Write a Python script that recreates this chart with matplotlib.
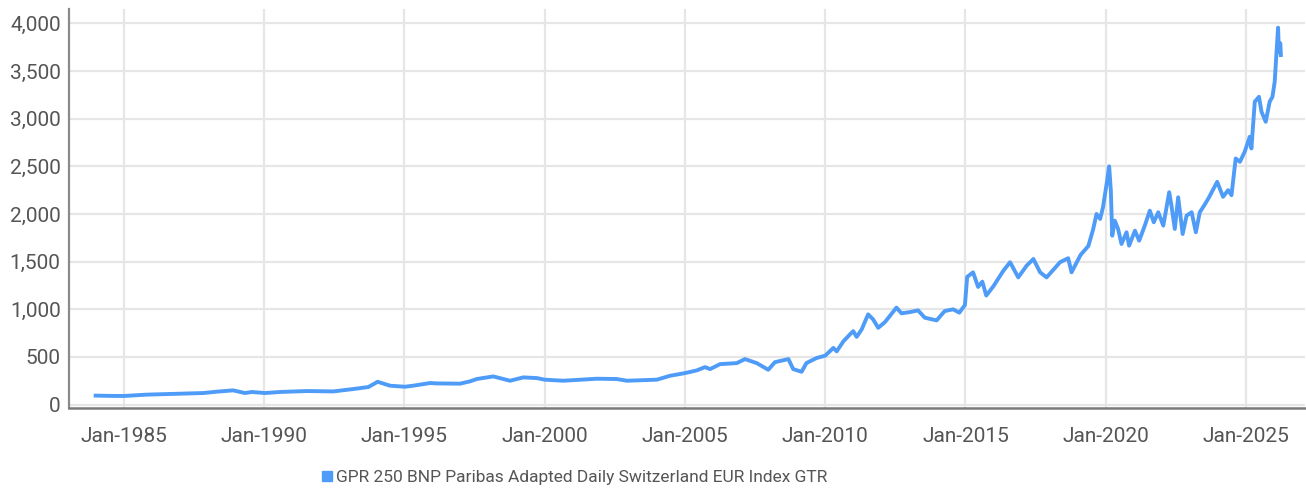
import matplotlib
matplotlib.use("Agg")
import matplotlib.pyplot as plt
from matplotlib.lines import Line2D

# index level, x in decimal years
years = [1984.0, 1984.5, 1985.0, 1985.8, 1987.0, 1987.84, 1988.31, 1988.9, 1989.32, 1989.56,
         1990.04, 1990.57, 1991.52, 1992.47, 1993.18, 1993.72, 1994.05, 1994.49, 1995.02, 1995.32,
         1995.92, 1996.15, 1996.98, 1997.34, 1997.58, 1998.17, 1998.77, 1999.24, 1999.72, 2000.0,
         2000.67, 2001.86, 2002.57, 2002.93, 2004.0, 2004.47, 2005.0, 2005.42, 2005.72, 2005.9,
         2006.25, 2006.85, 2007.14, 2007.56, 2007.97, 2008.21, 2008.69, 2008.86, 2009.16, 2009.33,
         2009.69, 2010.0, 2010.29, 2010.41, 2010.65, 2010.88, 2011.0, 2011.12, 2011.3, 2011.53,
         2011.71, 2011.89, 2012.13, 2012.54, 2012.72, 2013.02, 2013.31, 2013.55, 2013.97, 2014.26,
         2014.56, 2014.78, 2014.98, 2015.06, 2015.27, 2015.45, 2015.6, 2015.74, 2015.99, 2016.35,
         2016.59, 2016.88, 2017.18, 2017.42, 2017.66, 2017.89, 2018.37, 2018.66, 2018.78, 2019.1,
         2019.38, 2019.55, 2019.67, 2019.8, 2019.9, 2020.03, 2020.12, 2020.18, 2020.23, 2020.32,
         2020.44, 2020.56, 2020.74, 2020.83, 2021.04, 2021.19, 2021.39, 2021.57, 2021.71, 2021.87,
         2022.05, 2022.26, 2022.34, 2022.46, 2022.58, 2022.74, 2022.88, 2023.06, 2023.21, 2023.35,
         2023.53, 2023.68, 2023.97, 2024.18, 2024.36, 2024.48, 2024.63, 2024.78, 2024.95, 2025.13,
         2025.19, 2025.31, 2025.46, 2025.55, 2025.7, 2025.84, 2025.94, 2026.02, 2026.14, 2026.17,
         2026.22, 2026.24]
values = [95, 92, 91, 105, 115, 122, 136, 150, 122, 133,
          122, 133, 143, 139, 164, 185, 240, 199, 188, 199,
          227, 223, 220, 244, 269, 296, 251, 286, 279, 262,
          251, 272, 269, 251, 262, 303, 331, 359, 394, 373,
          425, 436, 478, 436, 366, 446, 478, 373, 345, 436,
          489, 514, 595, 559, 665, 736, 771, 711, 789, 947,
          894, 806, 866, 1018, 958, 971, 989, 912, 884, 982,
          1000, 965, 1045, 1340, 1388, 1235, 1290, 1145, 1240, 1405,
          1494, 1335, 1458, 1528, 1388, 1335, 1494, 1536, 1388, 1570,
          1665, 1840, 2000, 1948, 2070, 2315, 2500, 2245, 1772, 1930,
          1842, 1685, 1808, 1668, 1825, 1720, 1878, 2035, 1913, 2018,
          1878, 2228, 2088, 1843, 2175, 1790, 1983, 2018, 1808, 2018,
          2100, 2175, 2337, 2180, 2250, 2197, 2582, 2547, 2652, 2810,
          2687, 3177, 3229, 3072, 2967, 3177, 3229, 3387, 3954, 3702,
          3790, 3667]

tick_years = [1985, 1990, 1995, 2000, 2005, 2010, 2015, 2020, 2025]
tick_labels = ["Jan-%d" % y for y in tick_years]
y_ticks = [0, 500, 1000, 1500, 2000, 2500, 3000, 3500, 4000]
series_name = "GPR 250 BNP Paribas Adapted Daily Switzerland EUR Index GTR"

plt.rcParams['font.family'] = ['Roboto', 'DejaVu Sans']
line_color = "#4f9cf8"

fig = plt.figure(figsize=(13.06, 4.93), dpi=100)
ax = fig.add_axes([69/1306, 85/493, 1236/1306, 399/493])

ax.plot(years, values, color=line_color, lw=2.8, solid_joinstyle="round")

ax.set_xlim(1983.05, 2027.1)
ax.set_ylim(-35, 4150)
ax.set_xticks(tick_years)
ax.set_xticklabels(tick_labels)
ax.set_yticks(y_ticks)
ax.set_yticklabels(["{:,}".format(v) for v in y_ticks])

ax.grid(True, color="#e6e6e6", lw=1.6)
ax.set_axisbelow(True)
for s in ["top", "right"]:
    ax.spines[s].set_visible(False)
ax.spines["left"].set_color("#8a8a8a")
ax.spines["left"].set_linewidth(1.6)
ax.spines["bottom"].set_color("#7a7a7a")
ax.spines["bottom"].set_linewidth(1.8)
ax.tick_params(axis="both", length=0, labelsize=15, colors="#555555")
ax.tick_params(axis="x", pad=14)
ax.tick_params(axis="y", pad=6)

handle = Line2D([], [], marker="s", ls="none", color=line_color, markersize=7)
fig.legend([handle], [series_name], loc="center", bbox_to_anchor=(574/1306, 1 - 477/493),
           frameon=False, fontsize=12.5, handletextpad=0.1, handlelength=0.8,
           labelcolor="#555555")

fig.savefig("out.png", dpi=100)
